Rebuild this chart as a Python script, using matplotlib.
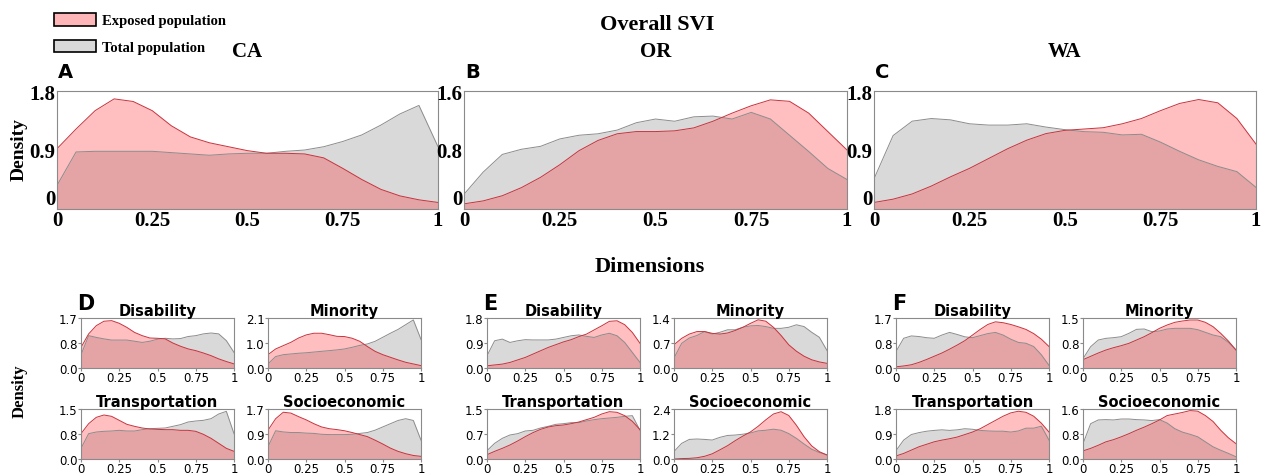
import numpy as np
import matplotlib.pyplot as plt
from matplotlib.patches import Patch

# x grid shared by every density curve
x_grid = np.round(np.arange(0, 1.0001, 0.05), 2)

# ---- Overall SVI (top row) ----
states = ['CA', 'OR', 'WA']
top_letters = ['A', 'B', 'C']
top_ymax = [1.8, 1.6, 1.8]
top_yticklabels = [['0', '0.9', '1.8'], ['0', '0.8', '1.6'], ['0', '0.9', '1.8']]

ca_exposed = [0.92, 1.22, 1.50, 1.68, 1.64, 1.50, 1.27, 1.10, 1.01, 0.95, 0.89,
              0.85, 0.85, 0.84, 0.78, 0.62, 0.45, 0.30, 0.20, 0.14, 0.10]
ca_total = [0.36, 0.87, 0.88, 0.88, 0.88, 0.88, 0.86, 0.84, 0.82, 0.84, 0.85,
            0.85, 0.88, 0.90, 0.95, 1.03, 1.13, 1.28, 1.45, 1.58, 0.95]
or_exposed = [0.07, 0.11, 0.18, 0.29, 0.43, 0.60, 0.79, 0.93, 1.02, 1.05, 1.05,
              1.06, 1.10, 1.19, 1.30, 1.40, 1.48, 1.46, 1.30, 1.05, 0.80]
or_total = [0.20, 0.50, 0.74, 0.81, 0.85, 0.95, 1.00, 1.02, 1.07, 1.17, 1.22,
            1.19, 1.25, 1.26, 1.22, 1.31, 1.22, 1.00, 0.78, 0.55, 0.40]
wa_exposed = [0.10, 0.15, 0.23, 0.35, 0.49, 0.62, 0.77, 0.92, 1.05, 1.15, 1.20,
              1.22, 1.24, 1.30, 1.38, 1.50, 1.61, 1.67, 1.62, 1.38, 0.99]
wa_total = [0.46, 1.12, 1.34, 1.38, 1.36, 1.30, 1.28, 1.28, 1.30, 1.25, 1.21,
            1.18, 1.17, 1.13, 1.14, 1.02, 0.88, 0.75, 0.65, 0.57, 0.33]
top_exposed = [ca_exposed, or_exposed, wa_exposed]
top_total = [ca_total, or_total, wa_total]

# ---- Dimensions (bottom row) ----
dimensions = ['Disability', 'Minority', 'Transportation', 'Socioeconomic']
bottom_letters = ['D', 'E', 'F']
dim_ymax = [[1.7, 2.1, 1.5, 1.7], [1.8, 1.4, 1.5, 2.4], [1.7, 1.5, 1.8, 1.6]]
dim_yticklabels = [
    [['0.0', '0.8', '1.7'], ['0.0', '1.0', '2.1'], ['0.0', '0.8', '1.5'], ['0.0', '0.9', '1.7']],
    [['0.0', '0.9', '1.8'], ['0.0', '0.7', '1.4'], ['0.0', '0.7', '1.5'], ['0.0', '1.2', '2.4']],
    [['0.0', '0.8', '1.7'], ['0.0', '0.8', '1.5'], ['0.0', '0.9', '1.8'], ['0.0', '0.8', '1.6']],
]

ca_dis_exp = [0.70, 1.16, 1.44, 1.59, 1.61, 1.52, 1.38, 1.21, 1.10, 1.02, 1.01,
              0.99, 0.85, 0.74, 0.65, 0.59, 0.51, 0.42, 0.31, 0.22, 0.14]
ca_dis_tot = [0.45, 1.10, 1.04, 0.99, 0.95, 0.95, 0.95, 0.91, 0.87, 0.91, 0.98,
              1.01, 0.99, 1.00, 1.07, 1.10, 1.16, 1.19, 1.16, 0.93, 0.53]
ca_min_exp = [0.56, 0.80, 0.94, 1.08, 1.26, 1.39, 1.46, 1.46, 1.40, 1.33, 1.32,
              1.25, 1.12, 0.90, 0.70, 0.56, 0.45, 0.34, 0.24, 0.17, 0.10]
ca_min_tot = [0.17, 0.48, 0.56, 0.59, 0.62, 0.64, 0.67, 0.70, 0.73, 0.76, 0.80,
              0.87, 0.95, 1.01, 1.12, 1.29, 1.46, 1.62, 1.82, 2.02, 1.20]
ca_tra_exp = [0.76, 1.06, 1.25, 1.32, 1.28, 1.16, 1.04, 0.98, 0.93, 0.90, 0.89,
              0.88, 0.88, 0.86, 0.86, 0.83, 0.74, 0.62, 0.47, 0.32, 0.23]
ca_tra_tot = [0.32, 0.76, 0.81, 0.83, 0.84, 0.86, 0.84, 0.84, 0.88, 0.91, 0.92,
              0.93, 0.98, 1.03, 1.11, 1.14, 1.16, 1.21, 1.35, 1.43, 0.76]
ca_soc_exp = [0.98, 1.37, 1.59, 1.56, 1.44, 1.33, 1.20, 1.09, 1.03, 1.00, 0.96,
              0.90, 0.83, 0.76, 0.64, 0.51, 0.37, 0.26, 0.18, 0.12, 0.09]
ca_soc_tot = [0.42, 0.96, 0.92, 0.90, 0.90, 0.88, 0.87, 0.84, 0.83, 0.83, 0.83,
              0.84, 0.87, 0.90, 0.98, 1.09, 1.20, 1.31, 1.37, 1.31, 0.64]

or_dis_exp = [0.08, 0.11, 0.14, 0.20, 0.29, 0.38, 0.50, 0.62, 0.74, 0.84, 0.94,
              1.02, 1.13, 1.22, 1.37, 1.52, 1.68, 1.70, 1.56, 1.28, 0.89]
or_dis_tot = [0.44, 0.98, 1.04, 0.92, 0.98, 1.02, 1.01, 1.01, 1.01, 1.04, 1.10,
              1.16, 1.19, 1.14, 1.10, 1.19, 1.25, 1.16, 0.92, 0.56, 0.20]
or_min_exp = [0.65, 0.83, 0.95, 1.02, 1.02, 0.97, 0.95, 0.98, 1.05, 1.14, 1.25,
              1.35, 1.31, 1.14, 0.91, 0.65, 0.47, 0.33, 0.23, 0.17, 0.13]
or_min_tot = [0.28, 0.69, 0.84, 0.91, 1.02, 0.95, 1.00, 1.07, 1.07, 1.14, 1.18,
              1.19, 1.16, 1.11, 1.11, 1.14, 1.21, 1.16, 1.00, 0.86, 0.49]
or_tra_exp = [0.13, 0.23, 0.32, 0.42, 0.54, 0.67, 0.79, 0.89, 0.96, 1.00, 1.02,
              1.06, 1.11, 1.18, 1.25, 1.35, 1.42, 1.40, 1.30, 1.13, 0.88]
or_tra_tot = [0.25, 0.47, 0.62, 0.72, 0.76, 0.84, 0.86, 0.93, 0.98, 1.04, 1.06,
              1.09, 1.09, 1.14, 1.18, 1.21, 1.23, 1.25, 1.28, 1.30, 0.86]
or_soc_exp = [0.00, 0.02, 0.03, 0.06, 0.13, 0.25, 0.44, 0.64, 0.88, 1.10, 1.30,
              1.57, 1.88, 2.16, 2.27, 2.09, 1.62, 1.07, 0.63, 0.35, 0.19]
or_soc_tot = [0.36, 0.75, 0.94, 0.96, 0.94, 0.91, 1.04, 1.13, 1.15, 1.19, 1.25,
              1.35, 1.38, 1.43, 1.38, 1.22, 0.99, 0.72, 0.47, 0.31, 0.20]

wa_dis_exp = [0.04, 0.07, 0.11, 0.19, 0.29, 0.40, 0.51, 0.64, 0.78, 0.93, 1.12,
              1.31, 1.48, 1.57, 1.54, 1.48, 1.40, 1.31, 1.17, 0.98, 0.73]
wa_dis_tot = [0.56, 1.01, 1.09, 1.07, 1.03, 1.01, 1.12, 1.21, 1.14, 1.06, 1.03,
              1.10, 1.17, 1.21, 1.12, 0.98, 0.87, 0.84, 0.73, 0.45, 0.09]
wa_min_exp = [0.25, 0.35, 0.45, 0.54, 0.61, 0.67, 0.74, 0.84, 0.94, 1.06, 1.19,
              1.29, 1.37, 1.41, 1.44, 1.44, 1.37, 1.24, 1.04, 0.81, 0.54]
wa_min_tot = [0.28, 0.64, 0.84, 0.89, 0.91, 0.94, 1.04, 1.16, 1.17, 1.09, 1.11,
              1.17, 1.19, 1.19, 1.19, 1.15, 1.07, 0.99, 0.94, 0.77, 0.54]
wa_tra_exp = [0.11, 0.20, 0.32, 0.44, 0.53, 0.62, 0.68, 0.73, 0.79, 0.88, 0.97,
              1.09, 1.24, 1.39, 1.54, 1.66, 1.72, 1.68, 1.54, 1.29, 0.97]
wa_tra_tot = [0.30, 0.68, 0.88, 0.95, 1.00, 1.03, 1.05, 1.03, 1.05, 1.09, 1.07,
              1.03, 1.01, 1.00, 1.00, 0.97, 1.01, 1.11, 1.11, 1.18, 0.68]
wa_soc_exp = [0.26, 0.34, 0.44, 0.55, 0.62, 0.71, 0.81, 0.92, 1.02, 1.13, 1.25,
              1.39, 1.44, 1.49, 1.55, 1.53, 1.39, 1.20, 0.92, 0.68, 0.49]
wa_soc_tot = [0.49, 1.13, 1.25, 1.26, 1.25, 1.28, 1.28, 1.26, 1.25, 1.23, 1.26,
              1.15, 0.97, 0.86, 0.79, 0.71, 0.55, 0.39, 0.28, 0.18, 0.07]

dim_exposed = [
    [ca_dis_exp, ca_min_exp, ca_tra_exp, ca_soc_exp],
    [or_dis_exp, or_min_exp, or_tra_exp, or_soc_exp],
    [wa_dis_exp, wa_min_exp, wa_tra_exp, wa_soc_exp],
]
dim_total = [
    [ca_dis_tot, ca_min_tot, ca_tra_tot, ca_soc_tot],
    [or_dis_tot, or_min_tot, or_tra_tot, or_soc_tot],
    [wa_dis_tot, wa_min_tot, wa_tra_tot, wa_soc_tot],
]

xticks = [0, 0.25, 0.5, 0.75, 1]
xticklabels = ['0', '0.25', '0.5', '0.75', '1']

W, H = 1261, 477
SERIF = 'Liberation Serif'
SANS = 'DejaVu Sans'
RED_FILL = (1.0, 0.16, 0.18, 0.3)
RED_LINE = '#c8323c'
GREY_FILL = '#d9d9d9'
GREY_LINE = '#8c8c8c'
SPINE = '#8a8a8a'


def px_axes(fig, left, top, right, bottom):
    return fig.add_axes([left / W, 1 - bottom / H, (right - left) / W, (bottom - top) / H])


def draw_density(ax, exposed, total):
    ax.fill_between(x_grid, total, color=GREY_FILL, lw=0)
    ax.plot(x_grid, total, color=GREY_LINE, lw=0.7)
    ax.fill_between(x_grid, exposed, color=RED_FILL, lw=0)
    ax.plot(x_grid, exposed, color=RED_LINE, lw=0.7)
    ax.set_xlim(0, 1)
    for s in ax.spines.values():
        s.set_color(SPINE)
        s.set_linewidth(0.8)


fig = plt.figure(figsize=(W / 100, H / 100), dpi=100)

# top row
top_boxes = [(57, 92, 438, 210), (464, 92, 847, 210), (874, 92, 1256, 210)]
for i, box in enumerate(top_boxes):
    ax = px_axes(fig, *box)
    draw_density(ax, top_exposed[i], top_total[i])
    ymax = top_ymax[i]
    ax.set_ylim(0, ymax)
    ax.set_yticks([0, ymax / 2, ymax])
    ax.set_yticklabels(top_yticklabels[i])
    ax.set_xticks(xticks)
    ax.set_xticklabels(xticklabels)
    ax.tick_params(length=0, pad=1)
    for lab in ax.get_xticklabels() + ax.get_yticklabels():
        lab.set_fontfamily(SERIF)
        lab.set_fontweight('bold')
        lab.set_fontsize(15)
    # lift the y "0" a little so it clears the x "0", as in the original
    ax.get_yticklabels()[0].set_verticalalignment('bottom')
    cx = (box[0] + box[2]) / 2
    fig.text(cx / W, 1 - 52 / H, states[i], family=SERIF, weight='bold',
             fontsize=15, ha='center', va='center')
    fig.text((box[0] + 1) / W, 1 - 73 / H, top_letters[i], family=SANS,
             weight='bold', fontsize=14, ha='left', va='center')

fig.text(657 / W, 1 - 25 / H, 'Overall SVI', family=SERIF, weight='bold',
         fontsize=16, ha='center', va='center')
fig.text(650 / W, 1 - 267 / H, 'Dimensions', family=SERIF, weight='bold',
         fontsize=16, ha='center', va='center')
fig.text(19 / W, 1 - 150 / H, 'Density', family=SERIF, weight='bold',
         fontsize=14, rotation=90, ha='center', va='center')
fig.text(20 / W, 1 - 391 / H, 'Density', family=SERIF, weight='bold',
         fontsize=12, rotation=90, ha='center', va='center')

# bottom row
group_left = [81, 487, 896]
col_off = [0, 187]
row_box = [(319, 369), (410, 460)]
for g in range(3):
    for k in range(4):
        r, c = divmod(k, 2)
        left = group_left[g] + col_off[c]
        top, bottom = row_box[r]
        ax = px_axes(fig, left, top, left + 153, bottom)
        draw_density(ax, dim_exposed[g][k], dim_total[g][k])
        ymax = dim_ymax[g][k]
        ax.set_ylim(0, ymax)
        ax.set_yticks([0, ymax / 2, ymax])
        ax.set_yticklabels(dim_yticklabels[g][k])
        ax.set_xticks(xticks)
        ax.set_xticklabels(xticklabels)
        ax.tick_params(labelsize=8.5, length=2, pad=0.5, color=SPINE)
        ax.set_title(dimensions[k], fontsize=10.5, weight='bold', family=SANS, pad=2)
    fig.text((group_left[g] - 4) / W, 1 - 304 / H, bottom_letters[g], family=SANS,
             weight='bold', fontsize=15, ha='left', va='center')

handles = [Patch(facecolor='#ffb6b9', edgecolor='black', lw=1.2, label='Exposed population'),
           Patch(facecolor=GREY_FILL, edgecolor='black', lw=1.2, label='Total population')]
fig.legend(handles=handles, loc='upper left', bbox_to_anchor=(54 / W, 1 - 14 / H),
           frameon=False, handlelength=2.9, handleheight=0.95, labelspacing=0.85,
           handletextpad=0.4, borderaxespad=0, borderpad=0,
           prop={'family': SERIF, 'weight': 'bold', 'size': 10.5})

fig.savefig('out.png', dpi=100)
